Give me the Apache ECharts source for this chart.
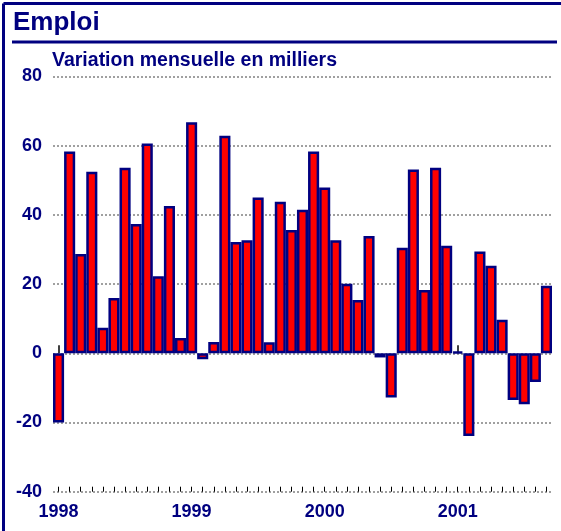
<!DOCTYPE html>
<html>
<head>
<meta charset="utf-8">
<script src="https://cdn.jsdelivr.net/npm/echarts@6/dist/echarts.min.js"></script>
<style>
  html, body { margin: 0; padding: 0; background: #fff; }
  #chart { width: 561px; height: 531px; }
</style>
</head>
<body>
<div id="chart"></div>
<script>
const navy = "#000080"

// months Jan 1998 .. Sep 2001
const years = ["1998", "1999", "2000", "2001"]
const months = []
years.forEach(y => {
  for (let m = 1; m <= 12; m++) months.push(y + "-" + m)
})
const categories = months.slice(0, 45)

// variation mensuelle, milliers
const values = [
  -20, 58.3, 28.7, 52.5, 7.4, 16, 53.6, 37.4, 60.6, 22.3, 42.6, 4.4,
  66.8, -1.7, 3.3, 62.9, 32.2, 32.7, 45, 3.2, 43.8, 35.6, 41.5, 58.3,
  47.9, 32.7, 20.1, 15.4, 33.9, -1.2, -12.8, 30.5, 53.1, 18.3, 53.6, 31.1,
  0.5, -23.9, 29.4, 25.3, 9.7, -13.5, -14.7, -8.3, 19.5
]

const yTicks = [-40, -20, 0, 20, 40, 60, 80]

const chart = echarts.init(document.getElementById("chart"), null, { renderer: "canvas" })

const isJan = (i, v) => /-1$/.test(v)

chart.setOption({
  animation: false,
  textStyle: { fontFamily: "Liberation Sans, Arial, sans-serif" },
  grid: { left: 53, right: 9, top: 76.5, bottom: 39.3 },
  graphic: [
    { type: "line", shape: { x1: 3.5, y1: 3.5, x2: 561, y2: 3.5 }, style: { stroke: navy, lineWidth: 3 } },
    { type: "line", shape: { x1: 3.5, y1: 3.5, x2: 3.5, y2: 531 }, style: { stroke: navy, lineWidth: 3 } },
    { type: "line", shape: { x1: 12, y1: 42, x2: 557, y2: 42 }, style: { stroke: navy, lineWidth: 3 } },
    {
      type: "text", left: 13, top: 10,
      style: { text: "Emploi", fill: navy, font: "bold 26px 'Liberation Sans', Arial, sans-serif" }
    },
    {
      type: "text", left: 52, top: 51,
      style: { text: "Variation mensuelle en milliers", fill: navy, font: "bold 19.5px 'Liberation Sans', Arial, sans-serif" }
    }
  ],
  xAxis: [
    {
      type: "category",
      data: categories,
      position: "bottom",
      axisLine: { show: false },
      axisTick: { show: true, inside: true, length: 8, interval: isJan, alignWithLabel: true, lineStyle: { color: "#000", width: 1.5 } },
      axisLabel: {
        interval: isJan,
        color: navy,
        fontWeight: "bold",
        fontSize: 18,
        margin: 11,
        formatter: v => v.split("-")[0]
      },
      splitLine: { show: false }
    },
    {
      type: "category",
      data: categories,
      position: "bottom",
      axisLine: { show: false },
      axisTick: { show: true, inside: true, length: 5, interval: 0, alignWithLabel: true, lineStyle: { color: "#000", width: 1 } },
      axisLabel: { show: false },
      splitLine: { show: false }
    }
  ],
  yAxis: {
    type: "value",
    min: yTicks[0],
    max: yTicks[yTicks.length - 1],
    interval: 20,
    axisLine: { show: false },
    axisTick: { show: false },
    axisLabel: { color: navy, fontWeight: "bold", fontSize: 18, margin: 11 },
    splitLine: { lineStyle: { color: "#a0a0a0", width: 2, type: [2, 2] } }
  },
  series: [
    {
      type: "bar",
      data: values,
      barCategoryGap: "0%",
      itemStyle: { color: "#ff0000", borderColor: navy, borderWidth: 2.5 }
    }
  ]
})
</script>
</body>
</html>
